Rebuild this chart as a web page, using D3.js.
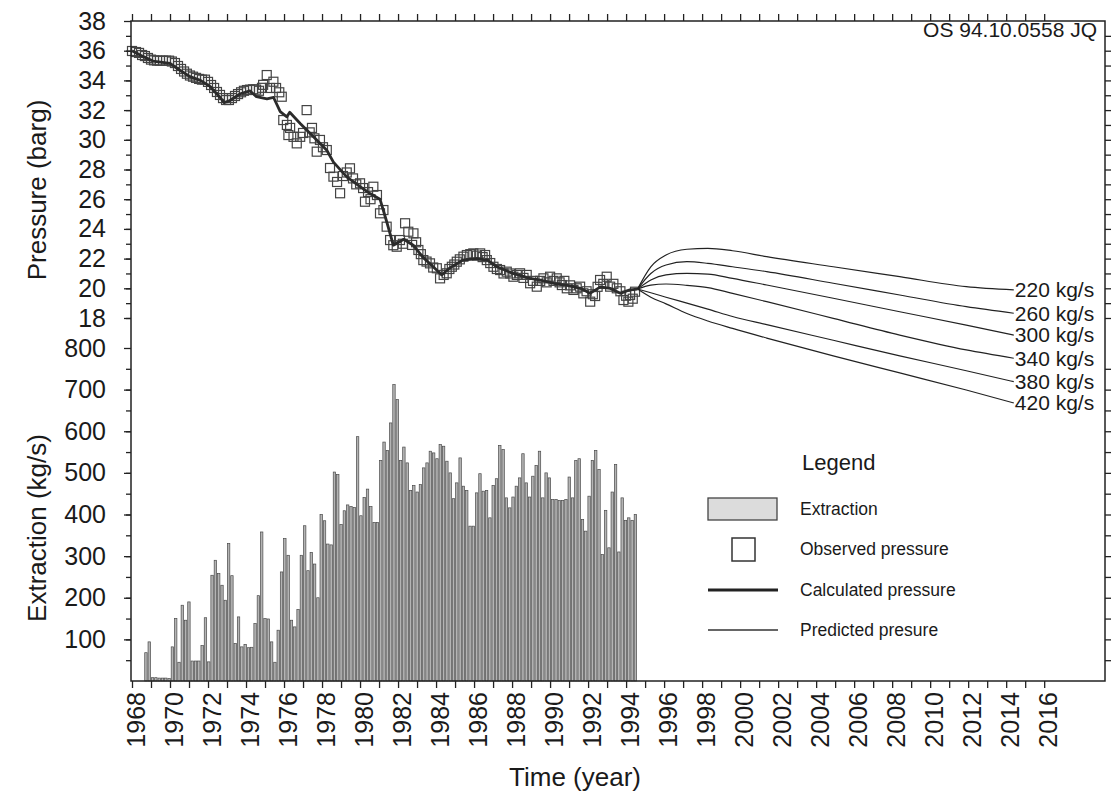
<!DOCTYPE html>
<html>
<head>
<meta charset="utf-8">
<script src="https://cdn.jsdelivr.net/npm/d3@7"></script>
<style>
  body { margin: 0; background: #fff; }
  svg text { font-family: "Liberation Sans", Arial, sans-serif; fill: #1a1a1a; }
</style>
</head>
<body>
<script>
//-----------------Data----------------
const pressureTicks = [18, 20, 22, 24, 26, 28, 30, 32, 34, 36, 38];
const extractionTicks = [100, 200, 300, 400, 500, 600, 700, 800];
const yearLabels = d3.range(1968, 2017, 2);

// extraction, roughly every two months from late 1968 to mid 1994 (kg/s)
const extStart = 1968.67;
const extEnd = 1994.6;
const extraction = [
  68, 94, 8, 8, 7, 7, 7, 6, 82, 150,
  45, 182, 146, 190, 48, 48, 48, 85, 152, 46,
  254, 290, 258, 230, 194, 330, 253, 90, 154, 82,
  88, 80, 81, 138, 205, 358, 150, 149, 94, 45,
  122, 262, 342, 302, 146, 130, 172, 302, 373, 265,
  309, 281, 200, 400, 385, 329, 327, 502, 496, 376,
  409, 423, 419, 417, 587, 397, 441, 461, 419, 381,
  381, 530, 574, 554,
  620, 712, 676, 530, 562, 524, 458, 470, 454, 472,
  512, 524, 552, 548, 534, 568, 564, 528, 500, 438,
  476, 536, 468, 458, 372, 372, 452, 498, 456, 458,
  392, 470, 486, 566, 556, 440, 416, 442, 468, 488,
  546, 476, 442, 492, 518, 552, 440, 500, 488, 436,
  436, 434, 434, 436, 490, 440, 530, 534, 388, 360,
  444, 530, 554, 508, 304, 410, 320, 454, 520, 310,
  440, 386, 392, 386, 400
];

// observed pressure (barg)
const obsYear = [
  1968.0, 1968.21, 1968.37, 1968.53, 1968.68, 1968.84, 1969.0, 1969.16, 1969.32, 1969.47,
  1969.63, 1969.79, 1969.95, 1970.1, 1970.26, 1970.42, 1970.58, 1970.74, 1970.89, 1971.05,
  1971.21, 1971.37, 1971.53, 1971.68, 1971.84, 1972.0, 1972.16, 1972.32, 1972.47, 1972.63,
  1972.79, 1972.95, 1973.1, 1973.26, 1973.42, 1973.58, 1973.74, 1973.89, 1974.05, 1974.21,
  1974.37, 1974.53, 1974.68, 1974.84, 1974.9, 1975.09, 1975.26, 1975.44, 1975.58, 1975.75,
  1975.88, 1975.96, 1976.15, 1976.23, 1976.32, 1976.5, 1976.67, 1976.85, 1977.0, 1977.19,
  1977.35, 1977.47, 1977.6, 1977.72, 1977.89, 1978.05, 1978.25, 1978.42, 1978.6, 1978.79,
  1978.95, 1979.1, 1979.3, 1979.47, 1979.63, 1979.8, 1980.0, 1980.16, 1980.26, 1980.42,
  1980.55, 1980.7, 1980.89, 1981.05, 1981.23, 1981.4, 1981.58, 1981.75, 1981.93, 1982.1,
  1982.25, 1982.37, 1982.54, 1982.74, 1982.81, 1982.95, 1983.07, 1983.2, 1983.33, 1983.5,
  1983.68, 1983.85, 1984.04, 1984.21, 1984.4, 1984.56, 1984.7, 1984.83, 1984.96, 1985.09,
  1985.25, 1985.44, 1985.62, 1985.8, 1985.96, 1986.15, 1986.32, 1986.45, 1986.58, 1986.67,
  1986.85, 1987.02, 1987.2, 1987.37, 1987.55, 1987.72, 1987.9, 1988.07, 1988.25, 1988.42,
  1988.6, 1988.77, 1988.95, 1989.1, 1989.3, 1989.48, 1989.65, 1989.82, 1990.0, 1990.18,
  1990.35, 1990.5, 1990.62, 1990.75, 1990.88, 1991.05, 1991.23, 1991.4, 1991.58, 1991.75,
  1991.92, 1992.11, 1992.25, 1992.37, 1992.5, 1992.63, 1992.8, 1992.98, 1993.16, 1993.33,
  1993.51, 1993.7, 1993.86, 1994.0, 1994.12, 1994.21, 1994.35, 1994.47
];
const obsP = [
  35.98, 35.91, 35.85, 35.71, 35.64, 35.51, 35.4, 35.35, 35.33, 35.33,
  35.33, 35.33, 35.33, 35.27, 35.17, 34.97, 34.77, 34.6, 34.45, 34.33,
  34.25, 34.17, 34.1, 34.05, 34.05, 33.9, 33.69, 33.49, 33.22, 33.02,
  32.81, 32.68, 32.68, 32.81, 32.95, 33.08, 33.2, 33.3, 33.35, 33.38,
  33.4, 33.38, 33.3, 33.5, 33.7, 34.36, 33.49, 33.91, 33.49, 33.2,
  32.9, 31.33, 31.0, 30.32, 30.8, 30.2, 29.76, 30.2, 30.46, 32.0,
  30.5, 30.8, 30.1, 29.2, 29.99, 29.5, 29.31, 28.1, 27.52, 27.16,
  26.4, 27.56, 27.8, 28.08, 27.4, 27.0, 27.07, 26.75, 25.83, 26.48,
  26.0, 26.84, 26.28, 25.05, 25.27, 24.15, 23.25, 22.9, 22.8, 23.25,
  23.0, 24.38, 23.81, 22.92, 23.7, 23.1, 22.58, 22.3, 21.9, 21.8,
  21.68, 21.4, 21.35, 20.67, 20.9, 21.01, 21.3, 21.45, 21.6, 21.79,
  21.95, 22.13, 22.24, 22.3, 22.35, 22.2, 22.35, 22.1, 22.24, 21.9,
  21.7, 21.45, 21.3, 21.23, 21.0, 21.12, 21.0, 20.78, 20.9, 21.01,
  20.7, 20.9, 20.34, 20.5, 20.11, 20.5, 20.67, 20.4, 20.78, 20.5,
  20.67, 20.4, 20.22, 20.5, 20.0, 20.2, 19.89, 20.0, 20.11, 19.66,
  19.8, 19.1, 19.6, 19.48, 20.1, 20.56, 20.3, 20.78, 20.11, 20.3,
  20.0, 19.8, 19.21, 19.5, 19.1, 19.55, 19.3, 19.77
];

// calculated pressure (barg)
const calcYear = [
  1968.0, 1968.6, 1969.1, 1970.0, 1970.5, 1971.05, 1971.6, 1972.1, 1972.6, 1972.85,
  1973.15, 1973.7, 1974.2, 1974.55, 1975.1, 1975.45, 1975.8, 1976.15, 1976.3, 1976.85,
  1977.55, 1978.25, 1978.6, 1979.3, 1980.0, 1980.5, 1981.05, 1981.4, 1981.75, 1982.3,
  1982.8, 1983.3, 1983.85, 1984.3, 1984.7, 1985.4, 1986.15, 1986.7, 1987.2, 1988.05,
  1988.95, 1989.5, 1990.2, 1990.9, 1991.6, 1992.1, 1992.65, 1993.15, 1993.7, 1994.2,
  1994.6
];
const calcP = [
  36.0, 35.6, 35.3, 35.15, 34.7, 34.25, 34.0, 33.6, 32.9, 32.5,
  32.65, 33.1, 33.3, 32.9, 32.75, 32.85, 31.9, 31.55, 31.85, 31.1,
  30.2, 29.3, 28.5, 27.5, 26.85, 26.4, 26.0, 24.5, 22.9, 23.3,
  22.9, 22.1, 21.45, 20.9, 21.35, 21.9, 22.0, 21.9, 21.45, 21.0,
  20.67, 20.55, 20.33, 20.2, 20.0, 19.66, 20.1, 20.0, 19.66, 19.9,
  19.95
];

// predicted pressure for six extraction rates (barg)
const predRates = ["220 kg/s", "260 kg/s", "300 kg/s", "340 kg/s", "380 kg/s", "420 kg/s"];
const predYear = [1994.6, 1995.3, 1996.1, 1997.2, 1998.3, 1999.6, 2001.4, 2004.9, 2008.4, 2011.9, 2014.4];
const pred220 = [19.95, 21.45, 22.24, 22.63, 22.69, 22.53, 22.13, 21.45, 20.78, 20.11, 19.89];
const pred260 = [19.95, 21.0, 21.57, 21.79, 21.68, 21.45, 21.12, 20.34, 19.55, 18.76, 18.32];
const pred300 = [19.95, 20.56, 20.9, 21.0, 20.96, 20.67, 20.22, 19.33, 18.42, 17.52, 16.85];
const pred340 = [19.95, 20.22, 20.29, 20.2, 20.05, 19.66, 19.1, 17.98, 16.85, 15.85, 15.29];
const pred380 = [19.95, 19.7, 19.4, 19.0, 18.6, 18.1, 17.55, 16.5, 15.45, 14.45, 13.71];
const pred420 = [19.95, 19.4, 18.95, 18.3, 17.8, 17.3, 16.65, 15.45, 14.3, 13.15, 12.28];
const predP = [pred220, pred260, pred300, pred340, pred380, pred420];

//-----------------Svg and scales----------------
const width = 1112;
const height = 799;
const plotLeft = 131, plotRight = 1105, plotTop = 21, plotBottom = 681;

const svg = d3.select("body").append("svg").attr("width", width).attr("height", height);

const x = d3.scaleLinear().domain([1968, 2019.2]).range([132, plotRight]);
const yP = d3.scaleLinear().domain([18, 38]).range([318, plotTop]);
const yE = d3.scaleLinear().domain([0, 800]).range([plotBottom, 348]);

//-----------------Extraction bars----------------
const step = (extEnd - extStart) / extraction.length;
svg.append("g")
  .selectAll("rect")
  .data(extraction)
  .enter()
  .append("rect")
  .attr("x", (d, i) => x(extStart + i * step))
  .attr("width", (d, i) => x(extStart + (i + 1) * step) - x(extStart + i * step) - 0.9)
  .attr("y", (d) => yE(d))
  .attr("height", (d) => yE(0) - yE(d))
  .attr("fill", "#b4b4b4")
  .attr("stroke", "#4a4a4a")
  .attr("stroke-width", 0.7);

//-----------------Observed / calculated / predicted----------------
svg.append("g")
  .selectAll("rect")
  .data(obsYear)
  .enter()
  .append("rect")
  .attr("x", (d) => x(d) - 4.5)
  .attr("y", (d, i) => yP(obsP[i]) - 4.5)
  .attr("width", 9)
  .attr("height", 9)
  .attr("fill", "none")
  .attr("stroke", "#444")
  .attr("stroke-width", 1.2);

const calcLine = d3.line()
  .x((d) => x(d))
  .y((d, i) => yP(calcP[i]));

svg.append("path")
  .attr("d", calcLine(calcYear))
  .attr("fill", "none")
  .attr("stroke", "#2b2b2b")
  .attr("stroke-width", 2.8)
  .attr("stroke-linejoin", "round");

predP.forEach((series, k) => {
  const line = d3.line()
    .curve(d3.curveMonotoneX)
    .x((d) => x(d))
    .y((d, i) => yP(series[i]));
  svg.append("path")
    .attr("d", line(predYear))
    .attr("fill", "none")
    .attr("stroke", "#222")
    .attr("stroke-width", 1.2);
  svg.append("text")
    .attr("x", x(predYear[predYear.length - 1]) + 1)
    .attr("y", yP(series[series.length - 1]))
    .attr("dy", "0.35em")
    .style("font-size", "21px")
    .text(predRates[k]);
});

//-----------------Axes----------------
// frame
svg.append("rect")
  .attr("x", plotLeft).attr("y", plotTop)
  .attr("width", plotRight - plotLeft).attr("height", plotBottom - plotTop)
  .attr("fill", "none").attr("stroke", "#222").attr("stroke-width", 1.5);

const clean = (g) => { g.select(".domain").remove(); g.selectAll("line").attr("stroke", "#222").attr("stroke-width", 1.3); };

svg.append("g").attr("transform", `translate(${plotLeft},0)`)
  .call(d3.axisLeft(yP).tickValues(d3.range(18, 38, 1)).tickSize(5).tickFormat(""))
  .call(clean);
svg.append("g").attr("transform", `translate(${plotLeft},0)`)
  .call(d3.axisLeft(yE).tickValues(d3.range(50, 800, 50)).tickSize(5).tickFormat(""))
  .call(clean);

const pAxis = svg.append("g").attr("transform", `translate(${plotLeft},0)`)
  .call(d3.axisLeft(yP).tickValues(pressureTicks).tickSize(7).tickPadding(18))
  .call(clean);
const eAxis = svg.append("g").attr("transform", `translate(${plotLeft},0)`)
  .call(d3.axisLeft(yE).tickValues(extractionTicks).tickSize(7).tickPadding(18))
  .call(clean);
[pAxis, eAxis].forEach((g) => g.selectAll("text")
  .style("font-size", "25px").style("font-family", "'Liberation Sans', Arial, sans-serif").attr("fill", "#1a1a1a"));

svg.append("g").attr("transform", `translate(${plotRight},0)`)
  .call(d3.axisRight(yP).tickValues(d3.range(18, 38, 1)).tickSize(6).tickFormat(""))
  .call(clean);
svg.append("g").attr("transform", `translate(${plotRight},0)`)
  .call(d3.axisRight(yE).tickValues(d3.range(50, 800, 50)).tickSize(6).tickFormat(""))
  .call(clean);

svg.append("g").attr("transform", `translate(0,${plotTop})`)
  .call(d3.axisTop(x).tickValues(d3.range(1968, 2017)).tickSize(7).tickFormat(""))
  .call(clean);

svg.append("g").attr("transform", `translate(0,${plotBottom})`)
  .call(d3.axisBottom(x).tickValues(d3.range(1968, 2017)).tickSize(7).tickFormat(""))
  .call(clean);

svg.append("g")
  .selectAll("text")
  .data(yearLabels)
  .enter()
  .append("text")
  .attr("transform", (d) => `translate(${x(d) + 4},${plotBottom + 11}) rotate(-90)`)
  .attr("dy", "0.35em")
  .attr("text-anchor", "end")
  .style("font-size", "25px")
  .text((d) => d);

//-----------------Titles----------------
svg.append("text")
  .attr("transform", "translate(37,190) rotate(-90)")
  .attr("dy", "0.35em")
  .attr("text-anchor", "middle")
  .style("font-size", "26px")
  .text("Pressure (barg)");

svg.append("text")
  .attr("transform", "translate(37,528) rotate(-90)")
  .attr("dy", "0.35em")
  .attr("text-anchor", "middle")
  .style("font-size", "26px")
  .text("Extraction (kg/s)");

svg.append("text")
  .attr("x", 575).attr("y", 786)
  .attr("text-anchor", "middle")
  .style("font-size", "26px")
  .text("Time (year)");

svg.append("text")
  .attr("x", 1097).attr("y", 37)
  .attr("text-anchor", "end")
  .style("font-size", "21px")
  .text("OS 94.10.0558 JQ");

//-----------------Legend----------------
const legend = svg.append("g");
legend.append("text").attr("x", 802).attr("y", 470).style("font-size", "22px").text("Legend");

legend.append("rect").attr("x", 708).attr("y", 498).attr("width", 69).attr("height", 22)
  .attr("fill", "#dcdcdc").attr("stroke", "#444").attr("stroke-width", 1.3);
legend.append("rect").attr("x", 732).attr("y", 538).attr("width", 23).attr("height", 23)
  .attr("fill", "none").attr("stroke", "#333").attr("stroke-width", 1.5);
legend.append("line").attr("x1", 708).attr("x2", 778).attr("y1", 590).attr("y2", 590)
  .attr("stroke", "#222").attr("stroke-width", 3);
legend.append("line").attr("x1", 708).attr("x2", 778).attr("y1", 630).attr("y2", 630)
  .attr("stroke", "#333").attr("stroke-width", 1.3);

const legendItems = ["Extraction", "Observed pressure", "Calculated pressure", "Predicted presure"];
const legendY = [509, 549, 590, 630];
legend.selectAll("text.item")
  .data(legendItems)
  .enter()
  .append("text")
  .attr("class", "item")
  .attr("x", 800)
  .attr("y", (d, i) => legendY[i])
  .attr("dy", "0.35em")
  .style("font-size", "17.5px")
  .text((d) => d);
</script>
</body>
</html>
